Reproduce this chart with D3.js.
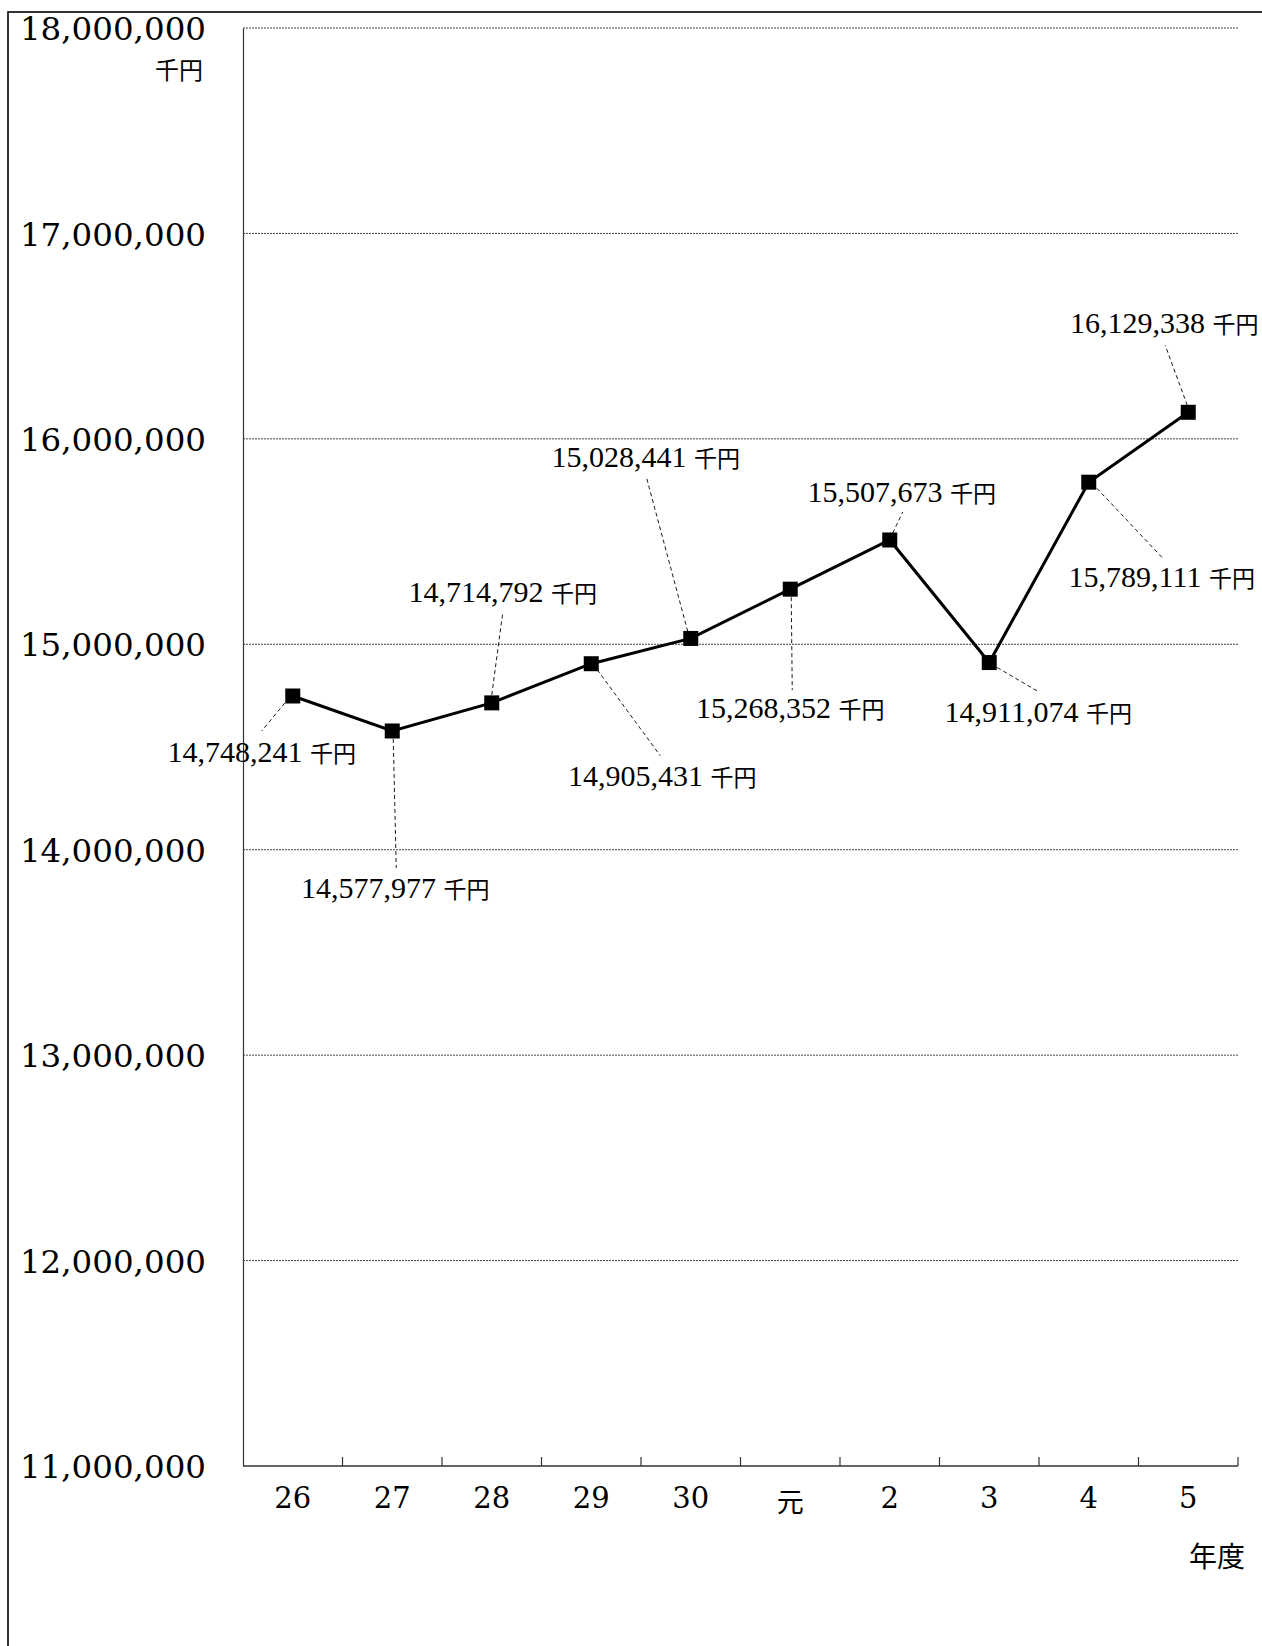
<!DOCTYPE html>
<html>
<head>
<meta charset="utf-8">
<script src="https://cdn.jsdelivr.net/npm/d3@7"></script>
<style>
  html, body { margin: 0; padding: 0; background: #fff; }
  svg { display: block; }
</style>
</head>
<body>
<div id="chart"></div>
<script>
// 年度別の推移（千円）
const years = ['26', '27', '28', '29', '30', '元', '2', '3', '4', '5']
const amounts = [14748241, 14577977, 14714792, 14905431, 15028441, 15268352, 15507673, 14911074, 15789111, 16129338]
const yTicks = [11000000, 12000000, 13000000, 14000000, 15000000, 16000000, 17000000, 18000000]

// label placement relative to each point: [label dx, label dy, leader x1, y1, x2, y2]
const labelOffsets = [
  [-31, 66, -8, 7, -31, 35],
  [3, 167, 1, 8, 4, 137],
  [11, -101, 0, -8, 11, -90],
  [71, 122, 6, 6, 69, 92],
  [-45, -171, -3, -7, -44, -160],
  [0, 129, 1, 8, 2, 101],
  [12, -38, 3, -7, 13, -28],
  [49, 59, 8, 5, 49, 29],
  [73, 105, 8, 6, 74, 76],
  [-24, -79, -1, -7, -23, -67]
]

const W = 1262
const H = 1646
const plot = { left: 243, right: 1238, top: 28, bottom: 1466 }
const serif = '"Liberation Serif", "Times New Roman", serif'
const wideSerif = '"DejaVu Serif", serif'
const cjk = '"Noto Sans CJK JP", sans-serif'

const svg = d3.select('#chart').append('svg')
  .attr('width', W)
  .attr('height', H)

// outer frame
svg.append('rect')
  .attr('x', 8).attr('y', 12)
  .attr('width', W + 20).attr('height', H + 20)
  .attr('fill', 'none')
  .attr('stroke', '#000')
  .attr('stroke-width', 1.6)

const x = d3.scaleBand().domain(years).range([plot.left, plot.right]).padding(0)
const y = d3.scaleLinear().domain([11000000, 18000000]).range([plot.bottom, plot.top])
const fmt = d3.format(',')

// gridlines
svg.append('g')
  .selectAll('line')
  .data(yTicks.filter(d => d > 11000000))
  .join('line')
  .attr('x1', plot.left).attr('x2', plot.right)
  .attr('y1', d => y(d)).attr('y2', d => y(d))
  .attr('stroke', '#444')
  .attr('stroke-width', 1)
  .attr('stroke-dasharray', '2,1')

// y axis
const yAxis = svg.append('g')
  .attr('transform', `translate(${plot.left},0)`)
  .call(d3.axisLeft(y).tickValues(yTicks).tickFormat(fmt).tickSize(0).tickPadding(37))
yAxis.select('.domain').attr('stroke', '#333').attr('stroke-width', 1.2)
yAxis.selectAll('text')
  .attr('font-family', wideSerif)
  .attr('font-size', 32.5)
  .attr('fill', '#000')
  .attr('dy', '0.36em')

svg.append('text')
  .attr('x', 203).attr('y', 79)
  .attr('text-anchor', 'end')
  .attr('font-family', cjk)
  .attr('font-size', 24)
  .text('千円')

// x axis: ticks on category boundaries, pointing inward
const xAxis = svg.append('g')
  .attr('transform', `translate(0,${plot.bottom})`)
xAxis.append('line')
  .attr('x1', plot.left).attr('x2', plot.right)
  .attr('stroke', '#333').attr('stroke-width', 1.5)
xAxis.selectAll('.tick')
  .data(years)
  .join('line')
  .attr('class', 'tick')
  .attr('x1', d => x(d) + x.bandwidth()).attr('x2', d => x(d) + x.bandwidth())
  .attr('y1', 0).attr('y2', -9)
  .attr('stroke', '#333').attr('stroke-width', 1.2)
xAxis.selectAll('text')
  .data(years)
  .join('text')
  .attr('x', d => x(d) + x.bandwidth() / 2)
  .attr('y', d => d === '元' ? 46 : 42)
  .attr('text-anchor', 'middle')
  .attr('font-family', d => d === '元' ? cjk : wideSerif)
  .attr('font-size', d => d === '元' ? 27 : 29)
  .text(d => d)

svg.append('text')
  .attr('x', 1245).attr('y', 1567)
  .attr('text-anchor', 'end')
  .attr('font-family', cjk)
  .attr('font-size', 28)
  .text('年度')

const pts = years.map((d, i) => ({ year: d, value: amounts[i], px: x(d) + x.bandwidth() / 2, py: y(amounts[i]), off: labelOffsets[i] }))

// leader lines
svg.append('g')
  .selectAll('line')
  .data(pts)
  .join('line')
  .attr('x1', d => d.px + d.off[2]).attr('y1', d => d.py + d.off[3])
  .attr('x2', d => d.px + d.off[4]).attr('y2', d => d.py + d.off[5])
  .attr('stroke', '#000')
  .attr('stroke-width', 0.9)
  .attr('stroke-dasharray', '4,3')

// the series
svg.append('path')
  .datum(pts)
  .attr('fill', 'none')
  .attr('stroke', '#000')
  .attr('stroke-width', 3)
  .attr('stroke-linejoin', 'miter')
  .attr('d', d3.line().x(d => d.px).y(d => d.py))

const size = 15
svg.append('g')
  .selectAll('rect')
  .data(pts)
  .join('rect')
  .attr('x', d => d.px - size / 2).attr('y', d => d.py - size / 2)
  .attr('width', size).attr('height', size)
  .attr('fill', '#000')

// value labels
const labels = svg.append('g')
  .selectAll('text')
  .data(pts)
  .join('text')
  .attr('x', d => d.px + d.off[0]).attr('y', d => d.py + d.off[1])
  .attr('text-anchor', 'middle')
  .attr('font-family', serif)
  .attr('font-size', 30)
labels.append('tspan').text(d => fmt(d.value) + ' ')
labels.append('tspan').attr('font-family', cjk).attr('font-size', 23).text('千円')
</script>
</body>
</html>
